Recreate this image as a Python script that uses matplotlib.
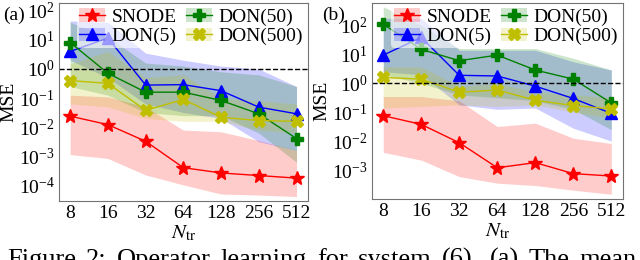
import numpy as np
import matplotlib
matplotlib.use("Agg")
import matplotlib.pyplot as plt
from matplotlib.patches import Patch

plt.rcParams['font.family'] = ['Liberation Serif', 'DejaVu Serif']
plt.rcParams['mathtext.fontset'] = 'stix'

n_train = [8, 16, 32, 64, 128, 256, 512]
tick_labels = ['8', '16', '32', '64', '128', '256', '512']
names = ['SNODE', 'DON(5)', 'DON(50)', 'DON(500)']
caption = 'Figure 2: Operator learning for system (6). (a) The mean'

# panel (a): mean curves and shaded bounds
a_snode = [0.024, 0.0123, 0.0033, 4.1e-4, 2.7e-4, 2.2e-4, 1.8e-4]
a_snode_lo = [1.15e-3, 8.5e-4, 2.3e-4, 1.05e-4, 5.1e-5, 4.7e-5, 4.2e-5]
a_snode_hi = [0.126, 0.11, 0.05, 0.008, 0.007, 0.0035, 0.0016]
a_don5 = [4.0, 11.5, 0.28, 0.29, 0.18, 0.049, 0.029]
a_don5_lo = [2.0, 0.5, 0.063, 0.032, 0.02, 0.0032, 0.0016]
a_don5_hi = [44.7, 40.0, 3.5, 2.0, 1.26, 1.0, 0.25]
a_don50 = [8.1, 0.71, 0.16, 0.16, 0.083, 0.029, 0.0041]
a_don50_lo = [0.25, 0.126, 0.032, 0.025, 0.025, 0.0063, 6.3e-4]
a_don50_hi = [40.0, 12.6, 1.6, 1.26, 0.8, 0.63, 0.25]
a_don500 = [0.40, 0.32, 0.038, 0.09, 0.022, 0.017, 0.016]
a_don500_lo = [0.063, 0.05, 0.02, 0.016, 0.016, 0.008, 0.0063]
a_don500_hi = [1.5, 4.0, 0.5, 0.63, 0.1, 0.08, 0.063]

# panel (b)
b_snode = [0.076, 0.038, 0.0088, 1.2e-3, 1.8e-3, 7.5e-4, 6.2e-4]
b_snode_lo = [4.1e-3, 2.2e-3, 5.9e-4, 3.5e-4, 2.9e-4, 2.0e-4, 1.45e-4]
b_snode_hi = [0.35, 0.35, 0.25, 0.032, 0.042, 0.0126, 0.0083]
b_don5 = [9.5, 39.0, 1.9, 1.8, 0.8, 0.30, 0.091]
b_don5_lo = [2.5, 2.0, 0.18, 0.126, 0.14, 0.028, 0.01]
b_don5_hi = [178.0, 178.0, 14.0, 14.0, 14.0, 5.6, 2.9]
b_don50 = [112.0, 15.0, 6.1, 9.5, 2.9, 1.4, 0.21]
b_don50_lo = [2.0, 1.0, 0.4, 0.32, 0.25, 0.126, 0.025]
b_don50_hi = [450.0, 100.0, 16.0, 16.0, 16.0, 7.4, 2.9]
b_don500 = [1.6, 1.4, 0.49, 0.59, 0.26, 0.17, 0.13]
b_don500_lo = [0.14, 0.16, 0.18, 0.16, 0.18, 0.1, 0.063]
b_don500_hi = [3.7, 3.7, 0.8, 1.0, 0.5, 0.4, 0.32]

colors = ['red', 'blue', 'green', '#bfbf00']
markers = ['*', '^', 'P', 'X']
msizes = [10, 9, 9, 9]


def draw(ax, means, lows, highs, ylim, yticks):
    handles = []
    for i in range(len(names)):
        ax.fill_between(n_train, lows[i], highs[i], color=colors[i],
                        alpha=0.2, linewidth=0)
        line, = ax.plot(n_train, means[i], color=colors[i], marker=markers[i],
                        markersize=msizes[i], linewidth=1)
        handles.append((Patch(color=colors[i], alpha=0.2, linewidth=0), line))
    ax.axhline(1.0, color='black', linestyle='--', linewidth=1)
    ax.set_xscale('log', base=2)
    ax.set_yscale('log')
    ax.set_xticks(n_train)
    ax.set_xticklabels(tick_labels)
    ax.minorticks_off()
    ax.set_yticks(yticks)
    ax.set_ylim(ylim)
    ax.tick_params(length=0, labelsize=14, pad=3)
    for s in ax.spines.values():
        s.set_color('0.45')
    ax.set_ylabel('MSE', fontsize=14, labelpad=1)
    ax.set_xlabel(r'$N_{\mathrm{tr}}$', fontsize=15, labelpad=1)
    ax.legend(handles, names, loc='upper right', ncol=2, fontsize=14,
              frameon=True, framealpha=0.6, edgecolor='none', borderpad=0.15,
              labelspacing=0.1, handlelength=1.3, handletextpad=0.35,
              columnspacing=0.5, borderaxespad=0.1)


fig = plt.figure(figsize=(6.4, 2.6), dpi=100)
ax1 = fig.add_axes([0.092, 0.227, 0.389, 0.761])
ax2 = fig.add_axes([0.581, 0.235, 0.392, 0.753])

draw(ax1, [a_snode, a_don5, a_don50, a_don500],
     [a_snode_lo, a_don5_lo, a_don50_lo, a_don500_lo],
     [a_snode_hi, a_don5_hi, a_don50_hi, a_don500_hi],
     (2.95e-5, 182), [1e-4, 1e-3, 1e-2, 1e-1, 1, 10, 100])
draw(ax2, [b_snode, b_don5, b_don50, b_don500],
     [b_snode_lo, b_don5_lo, b_don50_lo, b_don500_lo],
     [b_snode_hi, b_don5_hi, b_don50_hi, b_don500_hi],
     (1e-4, 600), [1e-3, 1e-2, 1e-1, 1, 10, 100])

fig.text(0.005, 0.925, '(a)', fontsize=14)
fig.text(0.503, 0.925, '(b)', fontsize=14)

# justified caption line (cut by the lower edge, as in the paper crop)
renderer = fig.canvas.get_renderer()
words = caption.split(' ')
texts = [fig.text(0, -0.022, w, fontsize=19, va='baseline') for w in words]
widths = [t.get_window_extent(renderer).width for t in texts]
x0, x1 = 7.0, 637.0
gap = (x1 - x0 - sum(widths)) / (len(words) - 1)
xpos = x0
for t, w in zip(texts, widths):
    t.set_x(xpos / 640.0)
    xpos += w + gap

fig.savefig('out.png', dpi=100)
